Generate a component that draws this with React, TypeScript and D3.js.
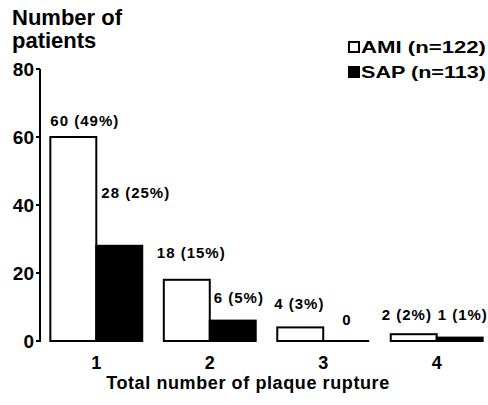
import React from "react";
import * as d3 from "d3";

const categories = ["1", "2", "3", "4"];
const seriesNames = ["AMI (n=122)", "SAP (n=113)"];
const amiValues = [60, 18, 4, 2];
const sapValues = [28, 6, 0, 1];
const amiLabels = ["60 (49%)", "18 (15%)", "4 (3%)", "2 (2%)"];
const sapLabels = ["28 (25%)", "6 (5%)", "0", "1 (1%)"];
const yTicks = [0, 20, 40, 60, 80];
// label offsets [dx from bar left, dy above bar top]
const amiLabelOffsets = [[0, 11], [-7, 22], [-3, 18], [-9, 14]];
const sapLabelOffsets = [[5, 48], [4, 18], [19, 16], [1, 18]];

const W = 488;
const H = 405;
const font = "Arial, 'Liberation Sans', Helvetica, sans-serif";

export default function App() {
  const x = d3.scaleBand<string>().domain(categories).range([39, 494]).paddingInner(0.19).paddingOuter(0.1);
  const y = d3.scaleLinear().domain([0, 80]).range([341, 69]);
  const bw = x.bandwidth() / 2;
  const axisX = 40;

  return (
    <svg width={W} height={H} style={{ position: "absolute", left: 0, top: 0, background: "#fff" }}>
      {/* y axis */}
      <line x1={axisX} x2={axisX} y1={y(80)} y2={y(0) + 1} stroke="#000" strokeWidth={2} />
      {yTicks.map((t) => (
        <g key={t}>
          <line x1={axisX - 4} x2={axisX} y1={y(t)} y2={y(t)} stroke="#000" strokeWidth={2} />
          <text x={axisX - 6} y={y(t) + 7} textAnchor="end" fontFamily={font} fontWeight="bold" fontSize={19}>
            {t}
          </text>
        </g>
      ))}
      {/* y title */}
      <text x={12} y={25} fontFamily={font} fontWeight="bold" fontSize={22}>Number of</text>
      <text x={12} y={48} fontFamily={font} fontWeight="bold" fontSize={22}>patients</text>

      {categories.map((c, i) => {
        const x0 = x(c)!;
        const ami = amiValues[i];
        const sap = sapValues[i];
        return (
          <g key={c}>
            <rect x={x0} y={y(ami)} width={bw} height={y(0) - y(ami)} fill="#fff" stroke="#000" strokeWidth={2} />
            {sap > 0 ? (
              <rect x={x0 + bw} y={y(sap)} width={bw} height={y(0) - y(sap)} fill="#000" stroke="#000" strokeWidth={2} />
            ) : (
              <line x1={x0 + bw} x2={x0 + 2 * bw} y1={y(0)} y2={y(0)} stroke="#000" strokeWidth={2} />
            )}
            <text x={x0 + amiLabelOffsets[i][0]} y={y(ami) - amiLabelOffsets[i][1]} fontFamily={font} fontWeight="bold" fontSize={15} letterSpacing={1}>
              {amiLabels[i]}
            </text>
            <text x={x0 + bw + sapLabelOffsets[i][0]} y={y(sap) - sapLabelOffsets[i][1]} fontFamily={font} fontWeight="bold" fontSize={15} letterSpacing={1}>
              {sapLabels[i]}
            </text>
            <text x={x0 + bw} y={369} textAnchor="middle" fontFamily={font} fontWeight="bold" fontSize={18}>
              {c}
            </text>
          </g>
        );
      })}

      {/* x title */}
      <text x={248} y={389} textAnchor="middle" fontFamily={font} fontWeight="bold" fontSize={18} letterSpacing={0.6}>
        Total number of plaque rupture
      </text>

      {/* legend */}
      {seriesNames.map((s, i) => (
        <g key={s}>
          <rect x={349} y={42 + i * 25} width={10} height={10} fill={i === 0 ? "#fff" : "#000"} stroke="#000" strokeWidth={2} />
          <text x={361} y={53 + i * 25} fontFamily={font} fontWeight="bold" fontSize={17} textLength={125} lengthAdjust="spacingAndGlyphs">
            {s}
          </text>
        </g>
      ))}
    </svg>
  );
}
